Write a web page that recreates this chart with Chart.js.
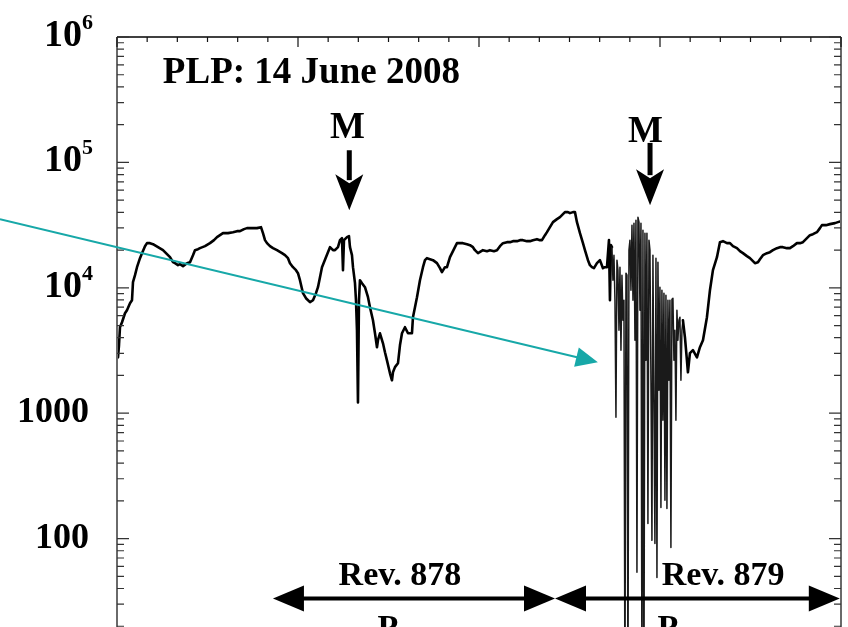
<!DOCTYPE html>
<html>
<head>
<meta charset="utf-8">
<title>PLP: 14 June 2008</title>
<script src="https://cdn.jsdelivr.net/npm/chart.js@4.4.0/dist/chart.umd.min.js"></script>
<style>
  html, body { margin: 0; padding: 0; background: #fff; overflow: hidden; }
  #wrap { position: relative; width: 848px; height: 664px; }
</style>
</head>
<body>
<div id="wrap"><canvas id="plp"></canvas></div>
<script>
// Langmuir probe electron density over the day, UT hours vs. density
const utHours = [
  0, 0.033, 0.066, 0.099, 0.166, 0.265, 0.331, 0.431, 0.497, 0.530, 0.597, 0.663, 0.762, 0.829, 0.928, 0.994,
  1.094, 1.193, 1.359, 1.525, 1.657, 1.757, 1.856, 1.922, 2.022, 2.088, 2.188, 2.320, 2.420, 2.519, 2.585, 2.685,
  2.751, 2.917, 3.082, 3.215, 3.315, 3.414, 3.513, 3.679, 3.845, 3.978, 4.077, 4.210, 4.309, 4.475, 4.640, 4.773,
  4.839, 4.906, 4.972, 5.071, 5.171, 5.303, 5.469, 5.569, 5.668, 5.734, 5.834, 5.933, 5.999, 6.065, 6.165, 6.264,
  6.397, 6.497, 6.596, 6.662, 6.729, 6.795, 6.927, 7.060, 7.160, 7.226, 7.325, 7.392, 7.458, 7.491, 7.524, 7.624,
  7.690, 7.723, 7.789, 7.823, 7.889, 7.922, 7.955, 7.988, 8.021, 8.054, 8.121, 8.220, 8.320, 8.386, 8.485, 8.552,
  8.618, 8.651, 8.717, 8.817, 8.883, 8.949, 9.049, 9.115, 9.148, 9.215, 9.314, 9.380, 9.447, 9.546, 9.646, 9.712,
  9.778, 9.811, 9.878, 9.944, 10.043, 10.143, 10.209, 10.275, 10.375, 10.474, 10.607, 10.706, 10.772, 10.872, 10.938, 11.038,
  11.104, 11.203, 11.270, 11.369, 11.469, 11.601, 11.701, 11.800, 11.866, 11.966, 12.131, 12.264, 12.363, 12.496, 12.596, 12.695,
  12.794, 12.927, 13.026, 13.126, 13.258, 13.358, 13.457, 13.590, 13.689, 13.788, 13.921, 14.021, 14.087, 14.187, 14.253, 14.352,
  14.452, 14.584, 14.684, 14.783, 14.849, 14.949, 15.015, 15.115, 15.181, 15.247, 15.347, 15.446, 15.512, 15.612, 15.678, 15.744,
  15.811, 15.910, 16.009, 16.109, 16.175, 16.242, 16.308, 16.341, 16.374,
  // periapsis: dense plasma with deep drop-outs
  16.407, 16.440, 16.474, 16.507, 16.540, 16.573, 16.606, 16.640, 16.673, 16.706,
  16.739, 16.772, 16.805, 16.838, 16.872, 16.905, 16.938, 16.971, 17.004, 17.037,
  17.071, 17.104, 17.137, 17.170, 17.203, 17.236, 17.269, 17.303, 17.336, 17.369,
  17.402, 17.435, 17.468, 17.501, 17.534, 17.567, 17.600, 17.634, 17.667, 17.700,
  17.733, 17.766, 17.799, 17.832, 17.866, 17.899, 17.932, 17.965, 17.998, 18.031,
  18.064, 18.097, 18.131, 18.164, 18.197, 18.230, 18.263, 18.296, 18.329, 18.362,
  18.396, 18.429, 18.462, 18.495, 18.528, 18.561, 18.594, 18.627, 18.661, 18.694,
  18.727, 18.760,
  18.827, 18.893, 18.926, 18.992, 19.092, 19.225,
  19.324, 19.424, 19.556, 19.656, 19.755, 19.888, 19.987, 20.087, 20.219, 20.319, 20.418, 20.551, 20.650, 20.749, 20.882, 20.981,
  21.081, 21.147, 21.247, 21.313, 21.412, 21.545, 21.644, 21.744, 21.876, 21.976, 22.075, 22.208, 22.307, 22.407, 22.539, 22.638,
  22.738, 22.871, 22.970, 23.070, 23.202, 23.302, 23.368, 23.501, 23.633, 23.799, 23.898, 23.997
];
const density = [
  3820, 2790, 3480, 4850, 5310, 6270, 6630, 7540, 7960, 11090, 12610, 14600, 17230, 18890, 21480, 22700,
  22700, 22290, 21090, 19960, 18550, 17550, 16010, 15720, 15150, 15430, 14880, 15720, 16010, 18210, 19960, 20330,
  20710, 21480, 22700, 23990, 25350, 26290, 27280, 27280, 27780, 28300, 28300, 29360, 29910, 29910, 29910, 30460,
  27280, 23990, 22700, 21480, 20710, 19960, 18890, 18210, 17230, 15720, 14600, 13820, 13080, 11500, 9060, 8260,
  7680, 7960, 9060, 10110, 12150, 14600, 17550, 21090, 19960, 19960, 21090, 23990, 24880, 13820, 23990, 25350,
  25820, 21090, 18210, 14600, 10880, 7960, 4590, 1220, 7960, 11500, 10880, 10110, 8410, 7000, 5510, 4340,
  3360, 3820, 4340, 3610, 3060, 2640, 2080, 1830, 2120, 2330, 2500, 3480, 4340, 4850, 4340, 4340,
  4340, 5830, 7000, 8410, 11500, 14600, 16610, 17230, 16920, 16610, 15720, 14340, 13320, 14600, 14600, 17550,
  18890, 21090, 22700, 22700, 22700, 22290, 21880, 21090, 19960, 18890, 19960, 19600, 19960, 19600, 19960, 21480,
  22700, 23120, 23120, 23550, 23550, 23990, 23990, 23550, 23550, 23990, 24430, 23990, 23990, 26290, 27780, 30460,
  33390, 35280, 36600, 38680, 40130, 40130, 39400, 40130, 40130, 33390, 27280, 22700, 19960, 16610, 15150, 14600,
  14340, 15720, 16610, 14340, 14600, 14600, 23990, 7960, 21880,
  21090, 11500, 18210, 7960, 927, 16610, 13820, 4590, 14600, 3180,
  12610, 5510, 7960, 5, 13080, 12610, 5, 19960, 23990, 9570,
  31600, 7960, 32780, 3820, 34640, 53.8, 36600, 33390, 6630, 32780,
  5, 28830, 5, 27280, 2640, 27280, 132, 23990, 19960, 1830,
  96.8, 18210, 1268, 91.6, 17230, 49, 16010, 1523, 10110, 177,
  9570, 878, 9060, 202, 8730, 174, 7960, 1830, 7960, 85.1,
  8110, 8260, 2640, 4590, 878, 6630, 3820, 5510, 5830, 1830,
  4590, 5510,
  4030, 2640, 2120, 3010, 3180, 2790,
  3360, 3820, 5830, 9570, 13820, 17550, 23120, 23550, 22700, 22700, 21480, 20710, 19600, 18890, 17880, 17230,
  16310, 15720, 16010, 16920, 18210, 18890, 19240, 19960, 20710, 21090, 21090, 20710, 20710, 21480, 22700, 22700,
  23120, 24880, 26290, 26780, 27780, 29910, 31600, 31600, 32190, 32780, 33390, 34010
];

// Time span of the periapsis drop-outs, traced with a finer pen
const periapsisSpan = [16.40, 18.77];

// Axis ticks
const yTickValues = [100, 1000, 1e4, 1e5, 1e6];
const yTickLabels = ['100', '1000', '10^4', '10^5', '10^6'];
const xHourTicks = [0,1,2,3,4,5,6,7,8,9,10,11,12,13,14,15,16,17,18,19,20,21,22,23,24];

// Annotations, anchored in (UT hour, density)
const titleText = 'PLP: 14 June 2008';
const titleAnchor = [1.52, 4.3e5];
const mLabelHours = [7.64, 17.52];
const mLabelDensity = [1.56e5, 1.45e5];
const mArrowHours = [7.70, 17.67];
const mArrowTop = [1.25e5, 1.43e5];
const mArrowTip = [4.16e4, 4.56e4];
const revLabels = ['Rev. 878', 'Rev. 879'];
const revLabelHours = [9.38, 20.09];
const revLabelDensity = 43;
const revStartHours = [5.17, 14.52];
const revEndHours = [14.52, 23.96];
const revArrowDensity = 33.3;
const pLabelHours = [8.98, 18.26];
const pLabelDensity = 16;
const tealFrom = [-3.88, 35280];
const tealTo = [15.94, 2548];

const SERIF = '"Liberation Serif", "Times New Roman", Times, serif';

function arrowHead(ctx, tipX, tipY, dirX, dirY, len, half) {
  const n = Math.hypot(dirX, dirY); const ux = dirX / n, uy = dirY / n;
  const bx = tipX - ux * len, by = tipY - uy * len;
  ctx.beginPath();
  ctx.moveTo(tipX, tipY);
  ctx.lineTo(bx - uy * half, by + ux * half);
  ctx.lineTo(bx + uy * half, by - ux * half);
  ctx.closePath();
  ctx.fill();
}

const framePlugin = {
  id: 'plpFrame',
  afterDraw(chart) {
    const { ctx, chartArea: a, scales: { x, y } } = chart;
    ctx.save();
    // frame
    ctx.lineWidth = 2;
    ctx.strokeStyle = '#6a6a6a';
    ctx.beginPath();
    ctx.moveTo(a.left, a.bottom); ctx.lineTo(a.left, a.top);
    ctx.moveTo(a.right, a.top); ctx.lineTo(a.right, a.bottom);
    ctx.stroke();
    ctx.strokeStyle = '#000'; ctx.lineWidth = 1.5;
    ctx.beginPath(); ctx.moveTo(a.left, a.top); ctx.lineTo(a.right, a.top); ctx.stroke();

    // top hour ticks
    ctx.lineWidth = 1.2; ctx.strokeStyle = '#111';
    xHourTicks.forEach(h => {
      const px = x.getPixelForValue(h);
      const len = h % 6 === 0 ? 10 : 5;
      ctx.beginPath(); ctx.moveTo(px, a.top); ctx.lineTo(px, a.top + len); ctx.stroke();
    });

    // log ticks on left and right
    ctx.strokeStyle = '#333'; ctx.lineWidth = 1.2;
    for (let e = 1; e <= 6; e++) {
      for (let m = 1; m <= 9; m++) {
        const v = m * Math.pow(10, e);
        if (v < y.min || v > y.max) continue;
        const py = y.getPixelForValue(v);
        const len = m === 1 ? 12 : 7;
        ctx.beginPath();
        ctx.moveTo(a.left, py); ctx.lineTo(a.left + len, py);
        ctx.moveTo(a.right, py); ctx.lineTo(a.right - len, py);
        ctx.stroke();
      }
    }

    // y tick labels
    ctx.fillStyle = '#000';
    ctx.textBaseline = 'alphabetic';
    yTickValues.forEach((v, i) => {
      const py = y.getPixelForValue(v) + 9;
      const lab = yTickLabels[i];
      if (lab.includes('^')) {
        const [base, exp] = lab.split('^');
        ctx.font = 'bold 38px ' + SERIF;
        ctx.textAlign = 'right';
        ctx.fillText(base, 82, py);
        ctx.font = 'bold 22px ' + SERIF;
        ctx.textAlign = 'left';
        ctx.fillText(exp, 82, py - 17);
      } else {
        ctx.font = 'bold 36px ' + SERIF;
        ctx.textAlign = 'right';
        ctx.fillText(lab, 89, py);
      }
    });

    // title
    ctx.font = 'bold 37px ' + SERIF;
    ctx.textAlign = 'left';
    ctx.fillText(titleText, x.getPixelForValue(titleAnchor[0]), y.getPixelForValue(titleAnchor[1]));

    // M labels with downward arrows
    ctx.textAlign = 'center';
    mLabelHours.forEach((h, i) => {
      ctx.font = 'bold 37px ' + SERIF;
      ctx.fillText('M', x.getPixelForValue(h), y.getPixelForValue(mLabelDensity[i]));
      const ax = x.getPixelForValue(mArrowHours[i]);
      const top = y.getPixelForValue(mArrowTop[i]);
      const tip = y.getPixelForValue(mArrowTip[i]);
      ctx.strokeStyle = '#000'; ctx.lineWidth = 5;
      ctx.beginPath(); ctx.moveTo(ax, top); ctx.lineTo(ax, tip - 30); ctx.stroke();
      ctx.beginPath();
      ctx.moveTo(ax, tip);
      ctx.lineTo(ax - 14, tip - 36);
      ctx.lineTo(ax, tip - 27);
      ctx.lineTo(ax + 14, tip - 36);
      ctx.closePath(); ctx.fill();
    });

    // teal pointer
    const tx0 = x.getPixelForValue(tealFrom[0]), ty0 = y.getPixelForValue(tealFrom[1]);
    const tx1 = x.getPixelForValue(tealTo[0]), ty1 = y.getPixelForValue(tealTo[1]);
    ctx.strokeStyle = '#17a8a8'; ctx.fillStyle = '#17a8a8'; ctx.lineWidth = 2;
    const dx = tx1 - tx0, dy = ty1 - ty0, dl = Math.hypot(dx, dy);
    ctx.beginPath(); ctx.moveTo(tx0, ty0); ctx.lineTo(tx1 - dx / dl * 15, ty1 - dy / dl * 15); ctx.stroke();
    arrowHead(ctx, tx1, ty1, dx, dy, 22, 10);

    // revolution spans
    ctx.fillStyle = '#000'; ctx.strokeStyle = '#000'; ctx.lineWidth = 4;
    const ry = y.getPixelForValue(revArrowDensity);
    revStartHours.forEach((h0, i) => {
      const x0 = x.getPixelForValue(h0), x1 = x.getPixelForValue(revEndHours[i]);
      ctx.beginPath(); ctx.moveTo(x0 + 20, ry); ctx.lineTo(x1 - 20, ry); ctx.stroke();
      arrowHead(ctx, x0, ry, -1, 0, 31, 13);
      arrowHead(ctx, x1, ry, 1, 0, 31, 13);
    });
    ctx.font = 'bold 34px ' + SERIF;
    ctx.textAlign = 'center';
    revLabels.forEach((t, i) => {
      ctx.fillText(t, x.getPixelForValue(revLabelHours[i]), y.getPixelForValue(revLabelDensity));
      ctx.fillText('P', x.getPixelForValue(pLabelHours[i]), y.getPixelForValue(pLabelDensity));
    });
    ctx.restore();
  }
};

const inPeriapsis = c => c.p0.parsed.x >= periapsisSpan[0] && c.p1.parsed.x <= periapsisSpan[1];

new Chart(document.getElementById('plp'), {
  type: 'line',
  data: {
    datasets: [{
      data: utHours.map((h, i) => ({ x: h, y: density[i] })),
      borderColor: '#000',
      borderWidth: 2.6,
      borderJoinStyle: 'round',
      borderCapStyle: 'round',
      pointRadius: 0,
      tension: 0,
      fill: false,
      segment: {
        borderWidth: c => inPeriapsis(c) ? 1.5 : undefined,
        borderColor: c => inPeriapsis(c) ? '#1a1a1a' : undefined
      }
    }]
  },
  options: {
    responsive: true,
    maintainAspectRatio: false,
    animation: false,
    layout: { padding: { left: 117, top: 37, right: 7, bottom: 0 } },
    plugins: { legend: { display: false }, tooltip: { enabled: false } },
    scales: {
      x: { type: 'linear', min: 0, max: 24, display: false },
      y: { type: 'logarithmic', min: 10, max: 1e6, display: false }
    }
  },
  plugins: [framePlugin]
});
</script>
</body>
</html>
